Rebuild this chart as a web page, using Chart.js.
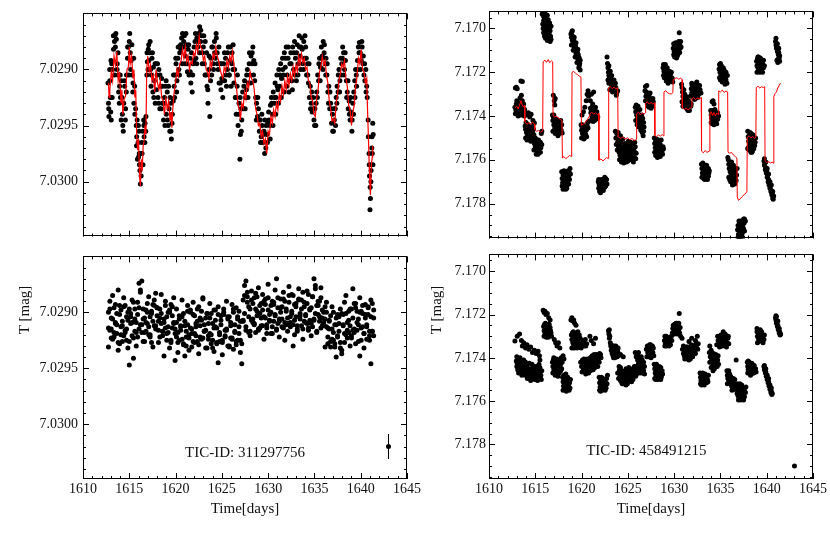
<!DOCTYPE html>
<html>
<head>
<meta charset="utf-8">
<script src="https://cdn.jsdelivr.net/npm/chart.js@4.4.1/dist/chart.umd.min.js"></script>
<style>
  html, body { margin: 0; padding: 0; background: #fff; }
  #page { position: relative; width: 830px; height: 534px; overflow: hidden; }
  #page canvas { position: absolute; }
</style>
</head>
<body>
<div id="page">
  <canvas id="tl" width="425" height="250" style="left:0;top:0;width:425px;height:250px"></canvas>
  <canvas id="bl" width="425" height="291" style="left:0;top:243px;width:425px;height:291px"></canvas>
  <canvas id="tr" width="420" height="250" style="left:410px;top:0;width:420px;height:250px"></canvas>
  <canvas id="br" width="420" height="291" style="left:410px;top:243px;width:420px;height:291px"></canvas>
</div>
<script>
// axis ticks
const xTickValues = [1610, 1615, 1620, 1625, 1630, 1635, 1640, 1645];
const yTicksLeft = [7.0290, 7.0295, 7.0300];
const yTicksRight = [7.170, 7.172, 7.174, 7.176, 7.178];

// TIC 311297756 - model (red) [time, mag]
const tlModel = [
  [1612.75,7.02912],[1612.82,7.02925],[1612.9,7.02918],[1613.05,7.02902],[1613.2,7.02910],[1613.35,7.02888],[1613.5,7.02896],[1613.65,7.02884],[1613.8,7.02910],[1613.95,7.02902],
  [1614.1,7.02930],[1614.2,7.02918],[1614.3,7.02940],[1614.45,7.02926],[1614.6,7.02924],[1614.75,7.02900],[1614.9,7.02898],[1615.0,7.02880],[1615.1,7.02895],[1615.25,7.02888],
  [1615.4,7.02908],[1615.5,7.02900],[1615.6,7.02925],[1615.7,7.02918],[1615.8,7.02960],[1615.9,7.02972],[1616.0,7.02962],[1616.1,7.02995],[1616.2,7.03004],[1616.3,7.02980],
  [1616.4,7.02990],[1616.5,7.02968],[1616.6,7.02964],[1616.7,7.02950],[1616.8,7.02958],[1616.88,7.02900],[1617.0,7.02888],[1617.15,7.02902],[1617.3,7.02896],[1617.45,7.02910],
  [1617.6,7.02905],[1617.75,7.02920],[1617.9,7.02900],[1618.05,7.02912],[1618.2,7.02918],[1618.35,7.02910],[1618.5,7.02925],[1618.65,7.02928],[1618.8,7.02940],[1618.95,7.02926],
  [1619.1,7.02935],[1619.25,7.02928],[1619.4,7.02945],[1619.5,7.02938],[1619.6,7.02952],[1619.7,7.02935],[1619.85,7.02920],[1620.0,7.02912],[1620.15,7.02900],[1620.3,7.02906],
  [1620.45,7.02895],[1620.6,7.02892],[1620.75,7.02882],[1620.9,7.02890],[1621.05,7.02880],[1621.2,7.02893],[1621.35,7.02888],[1621.5,7.02900],[1621.65,7.02893],[1621.8,7.02895],
  [1621.95,7.02885],[1622.1,7.02888],[1622.25,7.02878],[1622.4,7.02884],[1622.55,7.02870],[1622.7,7.02880],[1622.85,7.02882],[1623.0,7.02892],[1623.15,7.02888],[1623.3,7.02900],
  [1623.45,7.02902],[1623.6,7.02908],[1623.75,7.02893],[1623.9,7.02898],[1624.05,7.02886],[1624.2,7.02890],[1624.35,7.02880],[1624.5,7.02888],[1624.65,7.02892],[1624.8,7.02900],
  [1624.95,7.02904],[1625.1,7.02908],[1625.25,7.02898],[1625.4,7.02902],[1625.55,7.02892],[1625.7,7.02898],[1625.85,7.02888],[1626.0,7.02893],[1626.15,7.02884],[1626.3,7.02895],
  [1626.45,7.02910],[1626.6,7.02918],[1626.75,7.02932],[1626.9,7.02936],[1627.0,7.02945],[1627.15,7.02930],[1627.3,7.02934],[1627.45,7.02920],[1627.6,7.02926],[1627.75,7.02912],
  [1627.9,7.02916],[1628.05,7.02902],[1628.2,7.02908],[1628.35,7.02910],[1628.5,7.02918],[1628.65,7.02935],[1628.8,7.02940],[1628.95,7.02950],[1629.1,7.02948],[1629.25,7.02960],
  [1629.4,7.02955],[1629.55,7.02966],[1629.7,7.02962],[1629.85,7.02975],[1630.0,7.02955],[1630.15,7.02958],[1630.3,7.02942],[1630.45,7.02948],[1630.6,7.02936],[1630.75,7.02942],
  [1630.9,7.02930],[1631.05,7.02936],[1631.2,7.02922],[1631.35,7.02928],[1631.5,7.02915],[1631.65,7.02922],[1631.8,7.02910],[1631.95,7.02918],[1632.1,7.02906],[1632.25,7.02914],
  [1632.4,7.02904],[1632.55,7.02910],[1632.7,7.02898],[1632.85,7.02906],[1633.0,7.02896],[1633.15,7.02902],[1633.3,7.02888],[1633.45,7.02896],[1633.6,7.02886],[1633.75,7.02894],
  [1633.9,7.02890],[1634.05,7.02900],[1634.2,7.02898],[1634.35,7.02910],[1634.5,7.02912],[1634.65,7.02925],[1634.8,7.02928],[1634.95,7.02940],[1635.1,7.02942],[1635.25,7.02925],
  [1635.4,7.02918],[1635.55,7.02902],[1635.7,7.02898],[1635.85,7.02888],[1636.0,7.02896],[1636.15,7.02892],[1636.3,7.02905],[1636.45,7.02912],[1636.6,7.02928],[1636.75,7.02935],
  [1636.9,7.02946],[1637.05,7.02944],[1637.2,7.02948],[1637.35,7.02930],[1637.5,7.02922],[1637.65,7.02910],[1637.8,7.02904],[1637.95,7.02895],[1638.1,7.02898],[1638.25,7.02892],
  [1638.4,7.02908],[1638.55,7.02915],[1638.7,7.02932],[1638.85,7.02936],[1639.0,7.02950],[1639.15,7.02938],[1639.3,7.02932],[1639.45,7.02915],[1639.6,7.02906],[1639.75,7.02890],
  [1639.9,7.02895],[1640.05,7.02882],[1640.2,7.02900],[1640.35,7.02902],[1640.5,7.02912],[1640.65,7.02908],[1640.75,7.02940],[1640.85,7.02965],[1640.95,7.02995],[1641.05,7.03012],
  [1641.15,7.02985],[1641.25,7.02978],[1641.3,7.02968]
];

// TIC 311297756 - observed (black) [time, mag]
const tlObs = [
  [1612.7,7.02912],[1612.75,7.02930],[1612.8,7.02942],[1612.9,7.02910],[1612.95,7.02925],[1613.0,7.02938],[1613.05,7.02945],[1613.1,7.02895],[1613.2,7.02900],[1613.3,7.02882],
  [1613.4,7.02875],[1613.45,7.02870],[1613.5,7.02880],[1613.6,7.02873],[1613.7,7.02895],[1613.8,7.02905],[1613.85,7.02920],
  [1613.95,7.02915],[1614.05,7.02925],[1614.15,7.02910],[1614.25,7.02940],[1614.3,7.02950],[1614.4,7.02930],[1614.5,7.02915],[1614.6,7.02935],[1614.7,7.02905],[1614.8,7.02890],
  [1614.9,7.02880],[1615.0,7.02875],[1615.1,7.02885],[1615.2,7.02892],[1615.3,7.02905],[1615.4,7.02912],[1615.5,7.02930],[1615.6,7.02940],
  [1615.75,7.02950],[1615.8,7.02960],[1615.85,7.02945],[1615.95,7.02965],[1616.0,7.02978],[1616.05,7.02955],[1616.1,7.02985],[1616.15,7.02990],[1616.2,7.03002],[1616.25,7.02975],
  [1616.35,7.02965],[1616.45,7.02955],[1616.55,7.02945],[1616.6,7.02960],[1616.7,7.02948],[1616.8,7.02942],
  [1616.9,7.02905],[1616.95,7.02893],[1617.05,7.02882],[1617.1,7.02878],[1617.2,7.02885],[1617.3,7.02900],[1617.35,7.02915],[1617.45,7.02890],[1617.55,7.02920],[1617.6,7.02898],
  [1617.7,7.02910],[1617.8,7.02930],[1617.9,7.02895],[1618.0,7.02905],[1618.1,7.02925],[1618.2,7.02900],[1618.3,7.02935],[1618.4,7.02915],[1618.5,7.02908],[1618.6,7.02930],
  [1618.7,7.02945],[1618.8,7.02925],[1618.9,7.02915],[1619.0,7.02940],[1619.1,7.02920],[1619.2,7.02950],[1619.3,7.02935],[1619.4,7.02925],[1619.5,7.02955],[1619.55,7.02962],
  [1619.65,7.02940],[1619.75,7.02928],[1619.85,7.02915],
  [1619.95,7.02905],[1620.05,7.02895],[1620.15,7.02910],[1620.25,7.02890],[1620.35,7.02900],[1620.45,7.02885],[1620.55,7.02878],[1620.65,7.02872],[1620.75,7.02868],[1620.85,7.02880],
  [1620.95,7.02870],[1621.05,7.02888],[1621.15,7.02878],[1621.25,7.02895],[1621.35,7.02882],[1621.45,7.02905],[1621.55,7.02890],[1621.65,7.02912],[1621.8,7.02920],[1621.9,7.02895],
  [1622.0,7.02880],[1622.1,7.02875],[1622.2,7.02890],[1622.3,7.02872],[1622.4,7.02880],[1622.5,7.02868],[1622.6,7.02862],[1622.7,7.02875],[1622.8,7.02870],[1622.9,7.02885],
  [1623.0,7.02880],[1623.1,7.02895],[1623.2,7.02875],[1623.3,7.02905],[1623.4,7.02915],[1623.5,7.02930],[1623.6,7.02900],[1623.7,7.02942],[1623.8,7.02890],[1623.9,7.02905],
  [1624.0,7.02880],[1624.1,7.02900],[1624.2,7.02875],[1624.3,7.02890],[1624.4,7.02872],[1624.5,7.02885],[1624.6,7.02900],[1624.7,7.02912],[1624.8,7.02895],[1624.9,7.02918],
  [1625.0,7.02908],[1625.1,7.02925],[1625.2,7.02895],[1625.3,7.02910],[1625.4,7.02890],[1625.5,7.02915],[1625.6,7.02900],[1625.7,7.02880],[1625.8,7.02905],[1625.9,7.02892],
  [1626.0,7.02915],[1626.1,7.02885],[1626.2,7.02900],[1626.3,7.02912],
  [1626.45,7.02925],[1626.55,7.02940],[1626.65,7.02915],[1626.75,7.02950],[1626.85,7.02930],[1626.95,7.02980],[1627.0,7.02958],[1627.05,7.02935],[1627.15,7.02945],[1627.25,7.02920],
  [1627.35,7.02935],[1627.45,7.02910],[1627.55,7.02925],[1627.65,7.02918],[1627.75,7.02900],[1627.85,7.02912],[1627.95,7.02895],[1628.05,7.02905],[1628.15,7.02888],[1628.25,7.02895],
  [1628.35,7.02880],[1628.45,7.02892],[1628.55,7.02910],[1628.65,7.02925],
  [1628.75,7.02930],[1628.85,7.02942],[1628.95,7.02935],[1629.05,7.02955],[1629.15,7.02945],[1629.25,7.02960],[1629.35,7.02950],[1629.45,7.02965],[1629.55,7.02955],[1629.65,7.02945],
  [1629.75,7.02970],[1629.85,7.02958],[1629.95,7.02948],[1630.05,7.02938],[1630.15,7.02950],[1630.25,7.02932],[1630.35,7.02925],[1630.45,7.02940],[1630.55,7.02920],[1630.65,7.02930],
  [1630.75,7.02912],[1630.85,7.02925],[1630.95,7.02905],[1631.05,7.02918],[1631.15,7.02900],[1631.25,7.02915],[1631.35,7.02895],[1631.45,7.02908],
  [1631.55,7.02890],[1631.65,7.02905],[1631.75,7.02885],[1631.85,7.02898],[1631.95,7.02880],[1632.05,7.02905],[1632.15,7.02890],[1632.25,7.02920],[1632.35,7.02895],[1632.45,7.02885],
  [1632.55,7.02910],[1632.65,7.02880],[1632.75,7.02900],[1632.85,7.02875],[1632.95,7.02890],[1633.05,7.02910],[1633.15,7.02878],[1633.25,7.02895],[1633.35,7.02870],[1633.45,7.02888],
  [1633.55,7.02880],[1633.65,7.02872],[1633.75,7.02895],[1633.85,7.02875],[1633.95,7.02890],[1634.05,7.02880],[1634.15,7.02905],[1634.25,7.02895],[1634.35,7.02912],[1634.45,7.02925],
  [1634.55,7.02915],[1634.65,7.02930],[1634.75,7.02938],[1634.85,7.02925],[1634.95,7.02945],[1635.05,7.02935],[1635.15,7.02950],[1635.25,7.02920],[1635.35,7.02905],[1635.45,7.02910],
  [1635.55,7.02890],[1635.65,7.02898],[1635.75,7.02880],[1635.85,7.02888],[1635.95,7.02875],[1636.05,7.02885],[1636.15,7.02895],[1636.25,7.02890],[1636.35,7.02905],
  [1636.45,7.02920],[1636.55,7.02915],[1636.65,7.02935],[1636.75,7.02930],[1636.85,7.02948],[1636.95,7.02940],[1637.05,7.02955],[1637.15,7.02945],[1637.25,7.02935],[1637.35,7.02925],
  [1637.45,7.02915],[1637.55,7.02920],[1637.65,7.02900],[1637.75,7.02910],[1637.85,7.02890],[1637.95,7.02895],[1638.05,7.02880],[1638.15,7.02885],[1638.25,7.02900],[1638.35,7.02892],
  [1638.45,7.02910],
  [1638.55,7.02920],[1638.65,7.02935],[1638.75,7.02928],[1638.85,7.02945],[1638.95,7.02938],[1639.05,7.02955],[1639.15,7.02930],[1639.25,7.02920],[1639.35,7.02910],[1639.45,7.02900],
  [1639.55,7.02915],[1639.65,7.02892],[1639.75,7.02880],[1639.85,7.02876],[1639.95,7.02885],[1640.05,7.02892],[1640.15,7.02880],[1640.25,7.02895],[1640.35,7.02905],[1640.45,7.02910],
  [1640.55,7.02900],[1640.65,7.02915],
  [1640.8,7.02945],[1640.9,7.02975],[1640.95,7.02995],[1641.0,7.03025],[1641.05,7.03015],[1641.1,7.03000],[1641.15,7.02985],[1641.2,7.02970],[1641.25,7.02975],[1641.3,7.02948],
  [1641.35,7.02958]
];
const tlObsExtra = [
  [1612.78,7.02935],[1612.88,7.02900],[1613.02,7.02892],[1613.15,7.02925],[1613.28,7.02870],[1613.42,7.02905],[1613.55,7.02868],[1613.68,7.02900],[1613.78,7.02885],[1613.92,7.02930],
  [1614.02,7.02905],[1614.12,7.02945],[1614.22,7.02925],[1614.35,7.02955],[1614.48,7.02910],[1614.58,7.02945],[1614.68,7.02920],[1614.82,7.02880],[1614.95,7.02905],[1615.05,7.02868],
  [1615.15,7.02900],[1615.28,7.02878],[1615.38,7.02920],[1615.48,7.02890],[1615.58,7.02915],[1615.68,7.02935],[1615.78,7.02968],[1615.88,7.02980],[1615.98,7.02950],[1616.08,7.02975],
  [1616.18,7.02985],[1616.28,7.02995],[1616.38,7.02975],[1616.48,7.02985],[1616.58,7.02950],[1616.68,7.02965],[1616.78,7.02955],[1616.92,7.02885],[1617.02,7.02900],[1617.12,7.02892],
  [1617.25,7.02875],[1617.38,7.02905],[1617.5,7.02885],[1617.65,7.02925],[1617.78,7.02895],[1617.92,7.02918],[1618.05,7.02895],[1618.18,7.02930],[1618.32,7.02905],[1618.45,7.02935],
  [1618.58,7.02915],[1618.72,7.02930],[1618.85,7.02950],[1618.98,7.02910],[1619.12,7.02945],[1619.25,7.02915],[1619.38,7.02955],[1619.52,7.02930],[1619.62,7.02948],[1619.78,7.02905],
  [1619.9,7.02925],[1620.02,7.02890],[1620.12,7.02920],[1620.28,7.02880],[1620.42,7.02905],[1620.58,7.02882],[1620.72,7.02895],[1620.88,7.02875],[1621.02,7.02895],[1621.12,7.02868],
  [1621.28,7.02902],[1621.42,7.02878],[1621.58,7.02902],[1621.72,7.02885],[1621.85,7.02905],[1621.98,7.02892],[1622.15,7.02868],[1622.28,7.02895],[1622.45,7.02875],[1622.58,7.02885],
  [1622.72,7.02865],[1622.88,7.02895],[1623.05,7.02870],[1623.18,7.02905],[1623.35,7.02885],[1623.48,7.02918],[1623.62,7.02888],[1623.78,7.02910],[1623.92,7.02880],[1624.08,7.02895],
  [1624.22,7.02885],[1624.38,7.02868],[1624.52,7.02895],[1624.68,7.02880],[1624.82,7.02912],[1624.98,7.02895],[1625.15,7.02910],[1625.28,7.02885],[1625.45,7.02905],[1625.62,7.02885],
  [1625.78,7.02905],[1625.92,7.02880],[1626.08,7.02895],[1626.22,7.02878],[1626.38,7.02900],[1626.52,7.02925],[1626.68,7.02905],[1626.82,7.02940],[1626.98,7.02925],[1627.1,7.02955],
  [1627.22,7.02935],[1627.38,7.02915],[1627.52,7.02935],[1627.68,7.02905],[1627.82,7.02925],[1627.98,7.02885],[1628.12,7.02912],[1628.28,7.02885],[1628.42,7.02905],[1628.58,7.02895],
  [1628.72,7.02945],[1628.88,7.02925],[1629.02,7.02945],[1629.18,7.02965],[1629.32,7.02940],[1629.48,7.02958],[1629.62,7.02975],[1629.78,7.02950],[1629.92,7.02965],[1630.08,7.02945],
  [1630.22,7.02962],[1630.38,7.02930],[1630.52,7.02950],[1630.68,7.02925],[1630.82,7.02940],[1630.98,7.02915],[1631.12,7.02930],[1631.28,7.02905],[1631.42,7.02925],[1631.58,7.02900],
  [1631.72,7.02920],[1631.88,7.02890],[1632.02,7.02915],[1632.18,7.02880],[1632.32,7.02910],[1632.48,7.02895],[1632.62,7.02918],[1632.78,7.02885],[1632.92,7.02905],[1633.08,7.02885],
  [1633.22,7.02905],[1633.38,7.02880],[1633.52,7.02900],[1633.68,7.02882],[1633.82,7.02900],[1633.98,7.02870],[1634.12,7.02890],[1634.28,7.02905],[1634.42,7.02895],[1634.58,7.02935],
  [1634.72,7.02920],[1634.88,7.02935],[1635.02,7.02950],[1635.18,7.02930],[1635.32,7.02925],[1635.48,7.02895],[1635.62,7.02910],[1635.78,7.02890],[1635.92,7.02900],[1636.08,7.02878],
  [1636.22,7.02905],[1636.38,7.02895],[1636.52,7.02930],[1636.68,7.02920],[1636.82,7.02935],[1636.98,7.02955],[1637.12,7.02935],[1637.28,7.02950],[1637.42,7.02930],[1637.58,7.02905],
  [1637.72,7.02920],[1637.88,7.02905],[1638.02,7.02890],[1638.18,7.02905],[1638.32,7.02885],[1638.48,7.02925],[1638.62,7.02910],[1638.78,7.02940],[1638.92,7.02925],[1639.08,7.02945],
  [1639.22,7.02940],[1639.38,7.02925],[1639.52,7.02905],[1639.68,7.02900],[1639.82,7.02885],[1639.98,7.02900],[1640.12,7.02875],[1640.28,7.02888],[1640.42,7.02895],[1640.58,7.02920],
  [1640.7,7.02925],[1640.82,7.02960],[1640.92,7.02985],[1641.02,7.03005],[1641.12,7.02990],[1641.22,7.02960],[1641.32,7.02985]
];

// TIC 311297756 - residuals (three sets on one time grid)
const blTime = [
  1612.75,1612.9,1613.05,1613.2,1613.35,1613.5,1613.65,1613.8,1613.95,1614.1,
  1614.25,1614.4,1614.55,1614.7,1614.85,1615.0,1615.15,1615.3,1615.45,1615.6,
  1615.75,1615.9,1616.05,1616.2,1616.35,1616.5,1616.65,1616.8,1616.95,1617.1,
  1617.25,1617.4,1617.55,1617.7,1617.85,1618.0,1618.15,1618.3,1618.45,1618.6,
  1618.75,1618.9,1619.05,1619.2,1619.35,1619.5,1619.65,1619.8,1619.95,1620.1,
  1620.25,1620.4,1620.55,1620.7,1620.85,1621.0,1621.15,1621.3,1621.45,1621.6,
  1621.75,1621.9,1622.05,1622.2,1622.35,1622.5,1622.65,1622.8,1622.95,1623.1,
  1623.25,1623.4,1623.55,1623.7,1623.85,1624.0,1624.15,1624.3,1624.45,1624.6,
  1624.75,1624.9,1625.05,1625.2,1625.35,1625.5,1625.65,1625.8,1625.95,1626.1,
  1626.25,1626.4,1626.55,1626.7,1626.85,1627.0,1627.15,1627.3,1627.45,1627.6,
  1627.75,1627.9,1628.05,1628.2,1628.35,1628.5,1628.65,1628.8,1628.95,1629.1,
  1629.25,1629.4,1629.55,1629.7,1629.85,1630.0,1630.15,1630.3,1630.45,1630.6,
  1630.75,1630.9,1631.05,1631.2,1631.35,1631.5,1631.65,1631.8,1631.95,1632.1,
  1632.25,1632.4,1632.55,1632.7,1632.85,1633.0,1633.15,1633.3,1633.45,1633.6,
  1633.75,1633.9,1634.05,1634.2,1634.35,1634.5,1634.65,1634.8,1634.95,1635.1,
  1635.25,1635.4,1635.55,1635.7,1635.85,1636.0,1636.15,1636.3,1636.45,1636.6,
  1636.75,1636.9,1637.05,1637.2,1637.35,1637.5,1637.65,1637.8,1637.95,1638.1,
  1638.25,1638.4,1638.55,1638.7,1638.85,1639.0,1639.15,1639.3,1639.45,1639.6,
  1639.75,1639.9,1640.05,1640.2,1640.35,1640.5,1640.65,1640.8,1640.95,1641.1,
  1641.25,1641.4
];
const blResA = [
  7.02914,7.02897,7.02923,7.02906,7.02918,7.02893,7.02911,7.02927,7.02902,7.02920,
  7.02908,7.02895,7.02916,7.02925,7.02900,7.02947,7.02904,7.02921,7.02891,7.02917,
  7.02909,7.02922,7.02896,7.02911,7.02872,7.02926,7.02905,7.02917,7.02892,7.02913,
  7.02920,7.02899,7.02908,7.02894,7.02883,7.02903,7.02916,7.02897,7.02910,7.02921,
  7.02939,7.02914,7.02904,7.02918,7.02900,7.02927,7.02895,7.02909,7.02915,7.02897,
  7.02918,7.02925,7.02912,7.02904,7.02928,7.02908,7.02917,7.02899,7.02923,7.02914,
  7.02931,7.02902,7.02919,7.02910,7.02926,7.02895,7.02922,7.02907,7.02887,7.02911,
  7.02916,7.02901,7.02924,7.02905,7.02920,7.02932,7.02898,7.02913,7.02927,7.02945,
  7.02918,7.02903,7.02925,7.02900,7.02921,7.02915,7.02906,7.02930,7.02912,7.02923,
  7.02897,7.02917,7.02926,7.02904,7.02919,7.02908,7.02928,7.02889,7.02901,7.02872,
  7.02886,7.02918,7.02897,7.02907,7.02892,7.02911,7.02883,7.02903,7.02916,7.02894,
  7.02912,7.02898,7.02890,7.02905,7.02914,7.02887,7.02908,7.02900,7.02919,7.02893,
  7.02902,7.02870,7.02910,7.02906,7.02896,7.02913,7.02888,7.02909,7.02899,7.02917,
  7.02891,7.02904,7.02884,7.02911,7.02907,7.02895,7.02915,7.02889,7.02901,7.02912,
  7.02882,7.02908,7.02903,7.02892,7.02916,7.02897,7.02910,7.02886,7.02906,7.02879,
  7.02894,7.02902,7.02890,7.02914,7.02898,7.02909,7.02895,7.02913,7.02928,7.02908,
  7.02926,7.02915,7.02900,7.02928,7.02911,7.02922,7.02904,7.02932,7.02937,7.02911,
  7.02891,7.02920,7.02916,7.02899,7.02912,7.02923,7.02879,7.02918,7.02896,7.02909,
  7.02926,7.02900,7.02914,7.02894,7.02919,7.02905,7.02924,7.02902,7.02917,7.02946,
  7.02892,7.02921
];
const blResB = [
  7.02900,7.02916,7.02905,7.02924,7.02896,7.02910,7.02919,7.02880,7.02928,7.02898,
  7.02912,7.02921,7.02894,7.02915,7.02907,7.02926,7.02901,7.02909,7.02941,7.02897,
  7.02918,7.02902,7.02874,7.02880,7.02911,7.02897,7.02918,7.02909,7.02900,7.02920,
  7.02904,7.02927,7.02893,7.02912,7.02915,7.02896,7.02908,7.02922,7.02901,7.02917,
  7.02906,7.02894,7.02919,7.02913,7.02898,7.02925,7.02903,7.02910,7.02943,7.02922,
  7.02927,7.02906,7.02913,7.02924,7.02901,7.02939,7.02930,7.02911,7.02920,7.02898,
  7.02915,7.02926,7.02903,7.02921,7.02908,7.02929,7.02912,7.02899,7.02923,7.02917,
  7.02905,7.02932,7.02910,7.02919,7.02901,7.02925,7.02914,7.02907,7.02928,7.02902,
  7.02920,7.02911,7.02927,7.02897,7.02922,7.02916,7.02904,7.02931,7.02909,7.02924,
  7.02900,7.02918,7.02929,7.02906,7.02913,7.02925,7.02946,7.02908,7.02885,7.02913,
  7.02882,7.02895,7.02917,7.02889,7.02906,7.02910,7.02897,7.02886,7.02915,7.02901,
  7.02892,7.02912,7.02904,7.02888,7.02919,7.02898,7.02907,7.02894,7.02913,7.02891,
  7.02903,7.02916,7.02887,7.02908,7.02900,7.02895,7.02914,7.02890,7.02911,7.02905,
  7.02885,7.02909,7.02899,7.02930,7.02893,7.02904,7.02912,7.02888,7.02906,7.02897,
  7.02915,7.02891,7.02902,7.02910,7.02884,7.02907,7.02896,7.02913,7.02870,7.02901,
  7.02917,7.02894,7.02908,7.02887,7.02905,7.02911,7.02906,7.02900,7.02922,7.02915,
  7.02903,7.02924,7.02918,7.02931,7.02905,7.02921,7.02910,7.02927,7.02901,7.02912,
  7.02927,7.02901,7.02909,7.02918,7.02897,7.02921,7.02905,7.02915,7.02892,7.02916,
  7.02906,7.02939,7.02899,7.02913,7.02919,7.02902,7.02911,7.02895,7.02925,7.02904,
  7.02917,7.02898
];
const blResC = [
  7.02931,7.02890,7.02915,7.02885,7.02922,7.02909,7.02901,7.02934,7.02894,7.02913,
  7.02926,7.02887,7.02918,7.02904,7.02932,7.02897,7.02910,7.02889,7.02923,7.02906,
  7.02930,7.02891,7.02915,7.02882,7.02918,7.02906,7.02926,7.02898,7.02910,7.02886,
  7.02922,7.02901,7.02931,7.02889,7.02912,7.02896,7.02927,7.02905,7.02884,7.02917,
  7.02909,7.02890,7.02925,7.02900,7.02932,7.02893,7.02914,7.02887,7.02919,7.02909,
  7.02936,7.02903,7.02916,7.02889,7.02929,7.02912,7.02922,7.02894,7.02934,7.02900,
  7.02919,7.02891,7.02927,7.02913,7.02897,7.02937,7.02905,7.02924,7.02888,7.02917,
  7.02932,7.02901,7.02921,7.02892,7.02928,7.02910,7.02935,7.02898,7.02914,7.02895,
  7.02926,7.02907,7.02938,7.02902,7.02916,7.02890,7.02930,7.02904,7.02923,7.02893,
  7.02933,7.02911,7.02896,7.02925,7.02899,7.02936,7.02908,7.02907,7.02876,7.02916,
  7.02891,7.02904,7.02921,7.02881,7.02909,7.02887,7.02918,7.02899,7.02878,7.02914,
  7.02905,7.02884,7.02924,7.02893,7.02911,7.02875,7.02902,7.02919,7.02890,7.02908,
  7.02880,7.02915,7.02896,7.02922,7.02888,7.02906,7.02882,7.02925,7.02897,7.02910,
  7.02877,7.02913,7.02901,7.02885,7.02920,7.02892,7.02917,7.02879,7.02903,7.02889,
  7.02924,7.02895,7.02909,7.02881,7.02914,7.02898,7.02921,7.02886,7.02907,7.02876,
  7.02918,7.02890,7.02904,7.02878,7.02912,7.02900,7.02931,7.02891,7.02914,7.02907,
  7.02931,7.02895,7.02925,7.02911,7.02940,7.02902,7.02917,7.02897,7.02934,7.02902,
  7.02919,7.02885,7.02923,7.02907,7.02930,7.02897,7.02916,7.02892,7.02928,7.02899,
  7.02911,7.02887,7.02925,7.02901,7.02932,7.02893,7.02913,7.02896,7.02921,7.02889,
  7.02917,7.02905
];
const blRefPoint = [[1643, 7.03020]];
const blRefError = [[1643, 7.03009], [1643, 7.03031]];

// TIC 458491215 - model (red) [time, mag]
const trModel = [
  [1612.8,7.17362],[1613.0,7.17355],[1613.15,7.17368],[1613.3,7.17350],[1613.45,7.17330],[1613.55,7.17345],[1613.7,7.17358],[1613.82,7.17352],
  [1613.87,7.17425],[1614.1,7.17438],[1614.3,7.17430],[1614.5,7.17440],[1614.7,7.17428],[1614.9,7.17436],
  [1614.95,7.17462],[1615.15,7.17470],[1615.35,7.17466],[1615.55,7.17474],[1615.8,7.17468],
  [1615.85,7.17152],[1616.05,7.17145],[1616.2,7.17155],[1616.4,7.17142],[1616.55,7.17156],[1616.75,7.17148],[1616.88,7.17153],
  [1616.92,7.17398],[1617.1,7.17405],[1617.3,7.17400],[1617.5,7.17410],[1617.7,7.17415],[1617.88,7.17420],
  [1617.93,7.17592],[1618.1,7.17585],[1618.3,7.17595],[1618.5,7.17588],[1618.7,7.17580],[1618.93,7.17585],
  [1618.97,7.17200],[1619.15,7.17196],[1619.35,7.17205],[1619.55,7.17210],[1619.75,7.17218],[1619.93,7.17222],
  [1619.98,7.17442],[1620.2,7.17436],[1620.4,7.17430],[1620.6,7.17418],[1620.86,7.17400],
  [1620.9,7.17390],[1621.1,7.17382],[1621.3,7.17392],[1621.5,7.17385],[1621.7,7.17394],[1621.85,7.17388],
  [1621.88,7.17602],[1622.1,7.17596],[1622.3,7.17605],[1622.5,7.17598],[1622.7,7.17590],[1622.9,7.17594],
  [1622.93,7.17272],[1623.1,7.17265],[1623.3,7.17275],[1623.5,7.17268],[1623.7,7.17276],[1623.9,7.17270],
  [1623.95,7.17495],[1624.2,7.17502],[1624.45,7.17496],[1624.7,7.17505],[1624.95,7.17500],[1625.2,7.17508],[1625.45,7.17503],[1625.7,7.17512],[1625.92,7.17508],
  [1625.95,7.17390],[1626.15,7.17382],[1626.35,7.17395],[1626.55,7.17386],[1626.75,7.17392],[1626.88,7.17385],
  [1626.92,7.17342],[1627.1,7.17335],[1627.3,7.17345],[1627.5,7.17338],[1627.7,7.17346],[1627.88,7.17340],
  [1627.92,7.17488],[1628.1,7.17495],[1628.3,7.17486],[1628.5,7.17492],[1628.7,7.17485],[1628.86,7.17490],
  [1628.9,7.17290],[1629.1,7.17284],[1629.3,7.17294],[1629.5,7.17298],[1629.7,7.17300],[1629.86,7.17292],
  [1629.9,7.17235],[1630.1,7.17228],[1630.3,7.17225],[1630.5,7.17232],[1630.7,7.17226],[1630.85,7.17234],
  [1630.89,7.17362],[1631.1,7.17370],[1631.3,7.17364],[1631.5,7.17372],[1631.7,7.17366],[1631.88,7.17360],
  [1631.92,7.17322],[1632.1,7.17315],[1632.3,7.17325],[1632.5,7.17318],[1632.7,7.17322],[1632.92,7.17316],
  [1632.96,7.17560],[1633.15,7.17568],[1633.35,7.17558],[1633.55,7.17566],[1633.82,7.17560],
  [1633.86,7.17392],[1634.0,7.17380],[1634.15,7.17398],[1634.3,7.17384],[1634.45,7.17400],[1634.6,7.17386],[1634.78,7.17394],
  [1634.82,7.17285],[1635.0,7.17290],[1635.2,7.17282],[1635.4,7.17292],[1635.6,7.17286],[1635.78,7.17290],
  [1635.82,7.17565],[1636.0,7.17570],[1636.2,7.17566],[1636.4,7.17578],[1636.6,7.17585],[1636.78,7.17592],
  [1636.82,7.17770],[1636.95,7.17785],[1637.15,7.17778],[1637.35,7.17768],[1637.55,7.17760],[1637.75,7.17752],[1637.86,7.17745],
  [1637.9,7.17498],[1638.1,7.17490],[1638.3,7.17500],[1638.5,7.17494],[1638.7,7.17502],[1638.83,7.17496],
  [1638.87,7.17270],[1639.05,7.17264],[1639.25,7.17272],[1639.45,7.17266],[1639.65,7.17270],[1639.78,7.17265],
  [1639.82,7.17605],[1640.0,7.17612],[1640.2,7.17608],[1640.4,7.17615],[1640.6,7.17610],[1640.73,7.17616],
  [1640.77,7.17310],[1640.9,7.17298],[1641.05,7.17290],[1641.2,7.17272],[1641.35,7.17260],[1641.48,7.17250]
];

// TIC 458491215 - observed (black) [time, mag]
const trObs = [
  [1612.85,7.17272],[1612.95,7.17268],[1613.05,7.17275],[1613.45,7.17240],[1613.6,7.17242],[1613.5,7.17305],[1613.35,7.17318],
  [1612.8,7.17360],[1612.9,7.17372],[1612.95,7.17345],[1613.05,7.17385],[1613.1,7.17355],[1613.2,7.17368],[1613.25,7.17395],[1613.3,7.17340],[1613.4,7.17362],
  [1613.45,7.17378],[1613.55,7.17350],[1613.6,7.17330],[1613.7,7.17385],[1613.8,7.17400],[1613.85,7.17370],
  [1613.9,7.17445],[1613.95,7.17460],[1614.0,7.17430],[1614.05,7.17475],[1614.1,7.17455],[1614.15,7.17490],[1614.2,7.17468],[1614.25,7.17440],[1614.3,7.17482],[1614.35,7.17500],
  [1614.4,7.17460],[1614.45,7.17478],[1614.5,7.17448],[1614.55,7.17492],[1614.6,7.17505],[1614.7,7.17470],[1614.05,7.17395],[1614.25,7.17385],[1614.4,7.17405],[1614.55,7.17392],
  [1614.75,7.17420],[1614.9,7.17432],
  [1614.75,7.17495],[1614.8,7.17515],[1614.85,7.17485],[1614.9,7.17525],[1614.95,7.17505],[1615.0,7.17540],[1615.05,7.17515],[1615.1,7.17550],[1615.15,7.17525],[1615.2,7.17560],
  [1615.25,7.17535],[1615.3,7.17548],[1615.35,7.17510],[1615.4,7.17565],[1615.5,7.17540],[1615.55,7.17520],[1615.6,7.17545],[1615.7,7.17470],[1615.65,7.17480],
  [1615.75,7.16935],[1615.8,7.16925],[1615.9,7.16945],[1616.0,7.16955],[1616.05,7.16930],[1616.15,7.16950],[1616.3,7.16940],[1616.4,7.16960],[1616.55,7.16975],[1616.7,7.16990],
  [1615.85,7.17000],[1615.9,7.17020],[1615.95,7.16990],[1616.0,7.17035],[1616.05,7.17010],[1616.1,7.17045],[1616.15,7.17020],[1616.2,7.17000],[1616.25,7.17040],[1616.3,7.17055],
  [1616.35,7.17015],[1616.4,7.17030],[1616.45,7.17050],[1616.5,7.17025],[1616.55,7.17040],[1616.6,7.17010],[1616.65,7.17035],
  [1616.95,7.17305],[1617.05,7.17330],[1617.15,7.17320],[1617.1,7.17350],[1616.85,7.17395],[1616.9,7.17420],[1616.95,7.17405],[1617.0,7.17440],[1617.05,7.17415],[1617.1,7.17455],
  [1617.15,7.17430],[1617.2,7.17465],[1617.25,7.17440],[1617.3,7.17475],[1617.35,7.17450],[1617.4,7.17425],[1617.45,7.17460],[1617.5,7.17440],[1617.55,7.17470],[1617.6,7.17480],
  [1617.7,7.17455],[1617.8,7.17465],[1617.9,7.17478],
  [1617.85,7.17655],[1617.9,7.17685],[1617.95,7.17705],[1618.0,7.17670],[1618.05,7.17715],[1618.1,7.17690],[1618.15,7.17660],[1618.2,7.17705],[1618.25,7.17725],[1618.3,7.17680],
  [1618.35,7.17700],[1618.45,7.17670],[1618.5,7.17695],[1618.55,7.17650],[1618.6,7.17675],[1618.7,7.17660],[1618.75,7.17640],[1618.4,7.17730],
  [1618.85,7.17025],[1618.9,7.17040],[1618.95,7.17015],[1619.0,7.17055],[1619.05,7.17035],[1619.1,7.17070],[1619.15,7.17050],[1619.2,7.17085],[1619.25,7.17065],[1619.3,7.17100],
  [1619.35,7.17080],[1619.4,7.17115],[1619.45,7.17095],[1619.5,7.17125],[1619.55,7.17110],[1619.6,7.17140],[1619.65,7.17120],[1619.7,7.17150],[1619.75,7.17135],[1619.8,7.17160],
  [1619.85,7.17145],[1619.7,7.17180],
  [1619.95,7.17440],[1620.0,7.17465],[1620.05,7.17450],[1620.1,7.17480],[1620.15,7.17460],[1620.2,7.17490],[1620.25,7.17470],[1620.3,7.17500],[1620.35,7.17475],[1620.4,7.17455],
  [1620.45,7.17485],[1620.5,7.17465],[1620.6,7.17445],[1620.65,7.17430],[1620.75,7.17425],[1620.05,7.17395],[1620.2,7.17380],[1620.35,7.17360],[1620.5,7.17330],[1620.6,7.17300],
  [1620.7,7.17285],[1620.75,7.17310],
  [1620.95,7.17365],[1621.0,7.17385],[1621.05,7.17370],[1621.1,7.17400],[1621.15,7.17380],[1621.2,7.17410],[1621.25,7.17390],[1621.3,7.17415],[1621.35,7.17395],[1621.4,7.17375],
  [1621.45,7.17405],[1621.5,7.17385],[1621.55,7.17415],[1621.6,7.17395],[1621.7,7.17410],[1620.95,7.17330],[1621.05,7.17300],[1621.2,7.17345],[1621.3,7.17290],
  [1621.8,7.17700],[1621.85,7.17730],[1621.9,7.17715],[1621.95,7.17745],[1622.0,7.17725],[1622.05,7.17705],[1622.1,7.17740],[1622.15,7.17720],[1622.2,7.17700],[1622.25,7.17735],
  [1622.3,7.17710],[1622.35,7.17690],[1622.4,7.17720],[1622.45,7.17700],[1622.5,7.17680],[1622.55,7.17705],[1622.6,7.17685],[1622.7,7.17690],
  [1622.75,7.17130],[1622.8,7.17160],[1622.85,7.17180],[1622.9,7.17200],[1622.95,7.17215],[1623.0,7.17230],[1623.05,7.17210],[1623.1,7.17245],[1623.15,7.17225],[1623.2,7.17255],
  [1623.25,7.17235],[1623.3,7.17265],[1623.35,7.17245],[1623.4,7.17270],[1623.45,7.17250],[1623.5,7.17280],[1623.55,7.17260],[1623.6,7.17285],[1623.7,7.17270],[1623.8,7.17295],
  [1623.75,7.17305],
  [1623.65,7.17470],[1623.7,7.17500],[1623.8,7.17480],[1623.9,7.17520],[1624.0,7.17545],[1624.05,7.17565],[1624.1,7.17530],[1624.15,7.17580],[1624.2,7.17555],[1624.25,7.17600],
  [1624.3,7.17570],[1624.35,7.17545],[1624.4,7.17590],[1624.45,7.17565],[1624.5,7.17610],[1624.55,7.17580],[1624.6,7.17555],[1624.65,7.17595],[1624.7,7.17570],[1624.75,7.17540],
  [1624.8,7.17585],[1624.85,7.17560],[1624.9,7.17600],[1624.95,7.17575],[1625.0,7.17545],[1625.05,7.17590],[1625.1,7.17565],[1625.15,7.17530],[1625.2,7.17580],[1625.25,7.17555],
  [1625.3,7.17520],[1625.35,7.17570],[1625.4,7.17545],[1625.45,7.17585],[1625.5,7.17560],[1625.55,7.17530],[1625.6,7.17575],[1625.65,7.17550],[1625.7,7.17590],[1625.75,7.17565],
  [1625.8,7.17540],[1625.9,7.17570],[1623.95,7.17475],[1624.2,7.17490],[1624.45,7.17505],
  [1625.8,7.17360],[1625.85,7.17380],[1625.9,7.17350],[1625.95,7.17395],[1626.0,7.17370],[1626.05,7.17410],[1626.1,7.17385],[1626.15,7.17420],[1626.2,7.17400],[1626.25,7.17435],
  [1626.3,7.17415],[1626.35,7.17445],[1626.4,7.17425],[1626.45,7.17460],[1626.5,7.17440],[1626.55,7.17475],[1626.6,7.17455],[1626.65,7.17490],[1626.7,7.17470],
  [1626.85,7.17285],[1626.9,7.17265],[1626.95,7.17310],[1627.0,7.17330],[1627.05,7.17300],[1627.1,7.17345],[1627.15,7.17320],[1627.2,7.17355],[1627.25,7.17335],[1627.3,7.17310],
  [1627.35,7.17345],[1627.4,7.17325],[1627.45,7.17350],[1627.5,7.17330],[1627.6,7.17340],[1627.7,7.17320],[1627.05,7.17260],
  [1627.85,7.17500],[1627.9,7.17525],[1627.95,7.17545],[1628.0,7.17515],[1628.05,7.17560],[1628.1,7.17535],[1628.15,7.17575],[1628.2,7.17550],[1628.25,7.17525],[1628.3,7.17565],
  [1628.35,7.17540],[1628.4,7.17580],[1628.45,7.17555],[1628.5,7.17530],[1628.55,7.17570],[1628.6,7.17545],[1628.7,7.17560],[1628.8,7.17540],
  [1628.8,7.17180],[1628.85,7.17165],[1628.9,7.17195],[1628.95,7.17175],[1629.0,7.17210],[1629.05,7.17190],[1629.1,7.17220],[1629.15,7.17200],[1629.2,7.17230],[1629.25,7.17210],
  [1629.3,7.17235],[1629.35,7.17215],[1629.4,7.17240],[1629.45,7.17220],[1629.55,7.17230],[1629.65,7.17240],[1629.75,7.17225],[1629.85,7.17245],
  [1629.9,7.17090],[1629.95,7.17070],[1630.0,7.17105],[1630.05,7.17080],[1630.1,7.17115],[1630.15,7.17090],[1630.2,7.17125],[1630.25,7.17100],[1630.3,7.17075],[1630.35,7.17110],
  [1630.4,7.17085],[1630.45,7.17065],[1630.5,7.17095],[1630.6,7.17075],[1630.7,7.17060],[1630.55,7.17020],[1630.3,7.17130],
  [1630.8,7.17255],[1630.85,7.17270],[1630.9,7.17290],[1630.95,7.17310],[1631.0,7.17330],[1631.05,7.17345],[1631.1,7.17320],[1631.15,7.17355],[1631.2,7.17335],[1631.25,7.17360],
  [1631.3,7.17340],[1631.35,7.17365],[1631.4,7.17345],[1631.45,7.17370],[1631.5,7.17350],[1631.55,7.17330],[1631.6,7.17360],[1631.7,7.17340],[1631.8,7.17355],
  [1631.85,7.17275],[1631.9,7.17295],[1631.95,7.17260],[1632.0,7.17305],[1632.05,7.17280],[1632.1,7.17315],[1632.15,7.17290],[1632.2,7.17265],[1632.25,7.17300],[1632.3,7.17275],
  [1632.35,7.17310],[1632.4,7.17285],[1632.45,7.17245],[1632.5,7.17295],[1632.6,7.17270],[1632.7,7.17290],[1632.8,7.17280],
  [1632.95,7.17620],[1633.0,7.17640],[1633.05,7.17660],[1633.1,7.17635],[1633.15,7.17670],[1633.2,7.17650],[1633.25,7.17680],[1633.3,7.17655],[1633.35,7.17630],[1633.4,7.17665],
  [1633.45,7.17645],[1633.5,7.17675],[1633.55,7.17650],[1633.6,7.17665],[1633.7,7.17640],[1633.75,7.17660],
  [1633.95,7.17375],[1634.0,7.17395],[1634.05,7.17410],[1634.1,7.17385],[1634.15,7.17420],[1634.2,7.17400],[1634.25,7.17430],[1634.3,7.17410],[1634.35,7.17385],[1634.4,7.17420],
  [1634.45,7.17400],[1634.5,7.17425],[1634.6,7.17405],[1634.7,7.17415],[1634.1,7.17335],[1634.2,7.17330],[1634.3,7.17345],
  [1634.85,7.17185],[1634.9,7.17165],[1634.95,7.17200],[1635.0,7.17180],[1635.05,7.17215],[1635.1,7.17195],[1635.15,7.17225],[1635.2,7.17205],[1635.25,7.17230],[1635.3,7.17210],
  [1635.35,7.17240],[1635.4,7.17220],[1635.45,7.17245],[1635.5,7.17225],[1635.6,7.17235],[1635.7,7.17250],[1635.0,7.17160],
  [1635.85,7.17600],[1635.9,7.17620],[1635.95,7.17640],[1636.0,7.17615],[1636.05,7.17655],[1636.1,7.17635],[1636.15,7.17670],[1636.2,7.17645],[1636.25,7.17680],[1636.3,7.17655],
  [1636.35,7.17690],[1636.4,7.17665],[1636.45,7.17700],[1636.5,7.17675],[1636.55,7.17710],[1636.6,7.17685],[1636.7,7.17695],[1635.8,7.17590],
  [1636.85,7.17920],[1636.9,7.17900],[1636.95,7.17940],[1637.0,7.17915],[1637.05,7.17955],[1637.1,7.17930],[1637.15,7.17900],[1637.2,7.17945],[1637.25,7.17920],[1637.3,7.17890],
  [1637.35,7.17935],[1637.4,7.17905],[1637.45,7.17880],[1637.5,7.17915],[1637.55,7.17890],[1637.6,7.17870],[1637.0,7.17965],[1637.1,7.17975],
  [1637.95,7.17470],[1638.0,7.17495],[1638.05,7.17515],[1638.1,7.17490],[1638.15,7.17530],[1638.2,7.17505],[1638.25,7.17545],[1638.3,7.17520],[1638.35,7.17555],[1638.4,7.17530],
  [1638.45,7.17560],[1638.5,7.17540],[1638.55,7.17515],[1638.6,7.17550],[1638.7,7.17535],[1637.95,7.17550],[1638.3,7.17565],
  [1638.9,7.17150],[1638.95,7.17170],[1639.0,7.17140],[1639.05,7.17180],[1639.1,7.17160],[1639.15,7.17190],[1639.2,7.17170],[1639.25,7.17150],[1639.3,7.17185],[1639.35,7.17165],
  [1639.4,7.17195],[1639.45,7.17175],[1639.55,7.17160],[1639.65,7.17180],[1639.1,7.17130],[1639.3,7.17135],
  [1639.7,7.17605],[1639.75,7.17625],[1639.8,7.17615],[1639.85,7.17645],[1639.9,7.17635],[1639.95,7.17660],[1640.0,7.17650],[1640.05,7.17680],[1640.1,7.17670],[1640.15,7.17700],
  [1640.2,7.17690],[1640.25,7.17715],[1640.3,7.17705],[1640.35,7.17730],[1640.4,7.17720],[1640.45,7.17745],[1640.5,7.17740],[1640.55,7.17760],[1640.6,7.17755],[1640.65,7.17775],
  [1640.7,7.17780],
  [1640.95,7.17060],[1641.0,7.17075],[1641.05,7.17090],[1641.1,7.17085],[1641.15,7.17105],[1641.2,7.17100],[1641.25,7.17120],[1641.3,7.17110],[1641.35,7.17135],[1641.4,7.17125],
  [1641.1,7.17145],[1641.2,7.17155]
];
const trObsExtra = [
  [1612.85,7.17390],[1613.0,7.17330],[1613.15,7.17400],[1613.35,7.17385],[1613.5,7.17395],[1613.65,7.17365],[1613.75,7.17345],[1613.9,7.17385],
  [1613.95,7.17500],[1614.1,7.17510],[1614.2,7.17445],[1614.35,7.17465],[1614.5,7.17515],[1614.65,7.17450],[1614.8,7.17460],[1614.6,7.17485],
  [1614.85,7.17555],[1615.0,7.17500],[1615.1,7.17575],[1615.2,7.17510],[1615.3,7.17575],[1615.45,7.17525],[1615.55,7.17565],[1615.7,7.17530],
  [1615.8,7.16980],[1615.9,7.16965],[1616.0,7.16995],[1616.1,7.16975],[1616.2,7.16985],[1616.3,7.17005],[1616.45,7.16995],[1616.6,7.17060],[1616.25,7.16970],[1616.5,7.17000],[1616.7,7.17050],
  [1616.9,7.17470],[1617.0,7.17395],[1617.15,7.17480],[1617.3,7.17415],[1617.45,7.17490],[1617.6,7.17430],[1617.75,7.17420],[1617.85,7.17440],
  [1617.9,7.17720],[1618.0,7.17735],[1618.1,7.17650],[1618.2,7.17665],[1618.3,7.17735],[1618.45,7.17715],[1618.6,7.17710],[1618.7,7.17690],[1618.8,7.17665],
  [1618.9,7.17075],[1619.0,7.17010],[1619.1,7.17100],[1619.2,7.17040],[1619.3,7.17130],[1619.4,7.17065],[1619.5,7.17155],[1619.6,7.17095],[1619.75,7.17170],[1619.85,7.17190],
  [1620.0,7.17500],[1620.1,7.17440],[1620.25,7.17505],[1620.4,7.17490],[1620.55,7.17495],[1620.7,7.17455],[1620.3,7.17450],
  [1621.0,7.17420],[1621.1,7.17360],[1621.25,7.17425],[1621.4,7.17420],[1621.5,7.17360],[1621.65,7.17380],[1621.75,7.17405],
  [1621.85,7.17690],[1621.95,7.17700],[1622.05,7.17750],[1622.15,7.17690],[1622.25,7.17700],[1622.35,7.17740],[1622.5,7.17725],[1622.6,7.17720],[1622.75,7.17710],
  [1622.85,7.17235],[1622.95,7.17250],[1623.05,7.17280],[1623.15,7.17275],[1623.25,7.17215],[1623.35,7.17290],[1623.5,7.17235],[1623.65,7.17250],[1623.9,7.17285],[1622.95,7.17170],[1623.1,7.17195],
  [1623.75,7.17530],[1623.85,7.17555],[1624.0,7.17505],[1624.1,7.17600],[1624.25,7.17520],[1624.4,7.17540],[1624.55,7.17615],[1624.7,7.17525],[1624.85,7.17610],[1625.0,7.17605],
  [1625.15,7.17595],[1625.3,7.17600],[1625.45,7.17525],[1625.6,7.17610],[1625.75,7.17520],[1625.85,7.17595],[1624.3,7.17610],[1625.05,7.17515],
  [1625.85,7.17420],[1626.0,7.17440],[1626.1,7.17355],[1626.2,7.17450],[1626.3,7.17370],[1626.4,7.17465],[1626.5,7.17395],[1626.6,7.17410],[1626.7,7.17430],[1626.75,7.17450],
  [1626.9,7.17330],[1627.0,7.17290],[1627.1,7.17295],[1627.2,7.17315],[1627.3,7.17360],[1627.4,7.17295],[1627.5,7.17365],[1627.65,7.17355],[1627.75,7.17335],
  [1627.9,7.17565],[1628.0,7.17580],[1628.1,7.17505],[1628.2,7.17590],[1628.3,7.17510],[1628.4,7.17520],[1628.5,7.17585],[1628.6,7.17510],[1628.75,7.17575],[1628.85,7.17550],
  [1628.85,7.17215],[1628.95,7.17225],[1629.05,7.17165],[1629.15,7.17240],[1629.25,7.17180],[1629.35,7.17250],[1629.5,7.17195],[1629.6,7.17210],[1629.7,7.17200],[1629.8,7.17230],
  [1629.95,7.17120],[1630.05,7.17130],[1630.15,7.17065],[1630.25,7.17135],[1630.4,7.17120],[1630.5,7.17060],[1630.6,7.17110],[1630.65,7.17090],[1630.75,7.17085],
  [1630.85,7.17335],[1630.95,7.17355],[1631.05,7.17280],[1631.15,7.17300],[1631.25,7.17310],[1631.35,7.17320],[1631.5,7.17375],[1631.65,7.17375],[1631.75,7.17310],[1631.85,7.17345],
  [1631.9,7.17250],[1632.0,7.17255],[1632.1,7.17265],[1632.2,7.17325],[1632.3,7.17320],[1632.4,7.17250],[1632.55,7.17315],[1632.65,7.17300],[1632.75,7.17260],[1632.9,7.17295],
  [1633.0,7.17680],[1633.1,7.17615],[1633.2,7.17685],[1633.3,7.17690],[1633.4,7.17625],[1633.5,7.17625],[1633.6,7.17690],[1633.7,7.17675],[1633.8,7.17650],
  [1634.0,7.17430],[1634.1,7.17435],[1634.2,7.17375],[1634.3,7.17440],[1634.4,7.17370],[1634.5,7.17385],[1634.6,7.17435],[1634.7,7.17385],[1634.8,7.17400],
  [1634.9,7.17225],[1635.0,7.17235],[1635.1,7.17170],[1635.2,7.17245],[1635.3,7.17180],[1635.4,7.17190],[1635.5,7.17255],[1635.6,7.17200],[1635.75,7.17215],
  [1635.9,7.17680],[1636.0,7.17690],[1636.1,7.17700],[1636.2,7.17610],[1636.3,7.17715],[1636.4,7.17625],[1636.5,7.17640],[1636.6,7.17650],[1636.75,7.17670],[1636.8,7.17640],
  [1636.9,7.17955],[1637.0,7.17880],[1637.1,7.17890],[1637.2,7.17880],[1637.3,7.17950],[1637.4,7.17955],[1637.5,7.17870],[1637.6,7.17925],[1637.7,7.17880],
  [1638.0,7.17545],[1638.1,7.17555],[1638.2,7.17475],[1638.3,7.17480],[1638.4,7.17565],[1638.5,7.17485],[1638.6,7.17500],[1638.75,7.17520],[1638.8,7.17500],
  [1638.95,7.17200],[1639.05,7.17130],[1639.15,7.17150],[1639.25,7.17200],[1639.35,7.17140],[1639.45,7.17150],[1639.55,7.17200],[1639.65,7.17145],[1639.75,7.17170],
  [1639.75,7.17595],[1639.9,7.17610],[1640.05,7.17640],[1640.2,7.17665],[1640.35,7.17700],[1640.5,7.17715],[1640.65,7.17745],[1640.75,7.17765],
  [1641.0,7.17045],[1641.15,7.17070],[1641.3,7.17090],[1641.4,7.17150],[1641.25,7.17140]
];

// TIC 458491215 - residuals [time, mag]
const brRes = [
  [1612.95,7.17415],[1613.0,7.17440],[1613.05,7.17425],[1613.1,7.17455],[1613.15,7.17435],[1613.2,7.17410],[1613.25,7.17450],[1613.3,7.17430],[1613.4,7.17460],[1613.45,7.17420],
  [1613.5,7.17445],[1613.6,7.17470],[1613.65,7.17435],[1613.7,7.17455],[1613.8,7.17440],[1613.85,7.17465],[1613.9,7.17480],[1614.0,7.17450],[1614.05,7.17470],[1614.1,7.17440],
  [1614.2,7.17465],[1614.25,7.17485],[1614.3,7.17455],[1614.4,7.17475],[1614.45,7.17450],[1614.55,7.17490],[1614.6,7.17465],[1614.7,7.17480],[1614.75,7.17455],[1614.85,7.17495],
  [1614.9,7.17470],[1615.0,7.17485],[1615.05,7.17460],[1615.15,7.17495],[1615.2,7.17475],[1615.3,7.17455],[1615.35,7.17490],[1615.45,7.17470],[1615.5,7.17445],[1615.6,7.17480],
  [1615.65,7.17500],
  [1612.8,7.17322],[1613.05,7.17300],[1613.3,7.17290],[1613.5,7.17320],[1613.6,7.17345],[1613.75,7.17330],[1613.95,7.17355],[1614.1,7.17340],[1614.3,7.17360],[1614.5,7.17350],
  [1614.7,7.17375],[1614.9,7.17365],[1615.1,7.17380],[1615.3,7.17370],[1615.45,7.17390],[1615.5,7.17410],
  [1615.85,7.17180],[1615.95,7.17190],[1616.05,7.17185],[1616.15,7.17200],[1616.3,7.17195],[1616.45,7.17215],[1616.6,7.17225],[1615.9,7.17255],[1615.95,7.17275],[1616.0,7.17245],
  [1616.05,7.17290],[1616.1,7.17265],[1616.15,7.17300],[1616.2,7.17280],[1616.25,7.17255],[1616.3,7.17295],[1616.35,7.17270],[1616.4,7.17285],[1616.45,7.17260],[1616.55,7.17290],
  [1616.65,7.17275],[1616.75,7.17300],
  [1617.05,7.17315],[1617.2,7.17330],[1617.35,7.17345],[1617.5,7.17330],[1617.65,7.17355],[1616.85,7.17420],[1616.9,7.17440],[1616.95,7.17410],[1617.0,7.17455],[1617.05,7.17430],
  [1617.1,7.17465],[1617.15,7.17445],[1617.2,7.17420],[1617.25,7.17460],[1617.3,7.17440],[1617.35,7.17475],[1617.4,7.17450],[1617.45,7.17425],[1617.5,7.17465],[1617.55,7.17445],
  [1617.6,7.17410],[1617.7,7.17435],[1617.8,7.17400],[1617.9,7.17420],[1618.0,7.17390],[1618.1,7.17405],
  [1617.95,7.17490],[1618.0,7.17510],[1618.05,7.17530],[1618.1,7.17500],[1618.15,7.17540],[1618.2,7.17520],[1618.25,7.17545],[1618.3,7.17510],[1618.35,7.17535],[1618.4,7.17495],
  [1618.45,7.17525],[1618.5,7.17545],[1618.55,7.17505],[1618.6,7.17530],[1618.7,7.17515],[1618.8,7.17500],[1618.3,7.17475],
  [1618.85,7.17225],[1618.95,7.17215],[1619.05,7.17230],[1619.15,7.17225],[1619.25,7.17240],[1619.4,7.17250],[1618.9,7.17295],[1618.95,7.17315],[1619.0,7.17285],[1619.05,7.17330],
  [1619.1,7.17305],[1619.15,7.17340],[1619.2,7.17320],[1619.25,7.17295],[1619.3,7.17335],[1619.35,7.17310],[1619.4,7.17345],[1619.45,7.17325],[1619.5,7.17300],[1619.55,7.17340],
  [1619.6,7.17320],[1619.7,7.17350],[1619.8,7.17335],[1619.95,7.17355],[1620.1,7.17330],[1620.25,7.17345],[1620.4,7.17315],[1620.55,7.17335],[1619.6,7.17280],[1619.75,7.17295],
  [1619.9,7.17420],[1620.0,7.17440],[1620.1,7.17410],[1620.2,7.17450],[1620.3,7.17430],[1620.35,7.17460],[1620.4,7.17415],[1620.45,7.17445],[1620.5,7.17470],[1620.55,7.17425],
  [1620.6,7.17455],[1620.65,7.17435],[1620.7,7.17465],[1620.75,7.17410],[1620.8,7.17445],[1620.85,7.17425],[1620.9,7.17455],[1620.95,7.17400],[1621.0,7.17435],[1621.05,7.17415],
  [1621.1,7.17445],[1621.15,7.17390],[1621.2,7.17425],[1621.25,7.17405],[1621.3,7.17435],[1621.35,7.17385],[1621.4,7.17420],[1621.5,7.17400],[1621.6,7.17430],[1621.7,7.17395],
  [1621.8,7.17415],[1621.95,7.17380],[1622.1,7.17400],[1620.9,7.17300],[1621.05,7.17320],[1621.3,7.17335],[1621.5,7.17310],
  [1621.9,7.17490],[1621.95,7.17515],[1622.0,7.17535],[1622.05,7.17500],[1622.1,7.17545],[1622.15,7.17520],[1622.2,7.17550],[1622.25,7.17505],[1622.3,7.17535],[1622.35,7.17515],
  [1622.4,7.17545],[1622.45,7.17500],[1622.5,7.17530],[1622.6,7.17515],[1622.7,7.17495],[1622.8,7.17480],
  [1622.9,7.17275],[1622.95,7.17290],[1623.0,7.17310],[1623.05,7.17300],[1623.1,7.17330],[1623.0,7.17270],[1623.15,7.17345],[1623.2,7.17365],[1623.25,7.17350],[1623.3,7.17380],
  [1623.35,7.17360],[1623.4,7.17390],[1623.45,7.17370],[1623.5,7.17345],[1623.55,7.17385],[1623.6,7.17365],[1623.65,7.17395],[1623.7,7.17375],[1623.75,7.17355],[1623.8,7.17385],
  [1623.9,7.17370],[1624.0,7.17390],[1624.2,7.17385],[1624.5,7.17395],
  [1623.9,7.17470],[1624.0,7.17495],[1624.1,7.17455],[1624.15,7.17485],[1624.2,7.17505],[1624.25,7.17470],[1624.3,7.17495],[1624.35,7.17515],[1624.4,7.17480],[1624.45,7.17500],
  [1624.5,7.17465],[1624.55,7.17490],[1624.6,7.17510],[1624.65,7.17475],[1624.7,7.17495],[1624.75,7.17460],[1624.8,7.17485],[1624.85,7.17505],[1624.9,7.17470],[1624.95,7.17490],
  [1625.0,7.17455],[1625.05,7.17480],[1625.1,7.17500],[1625.15,7.17465],[1625.2,7.17485],[1625.25,7.17450],[1625.3,7.17475],[1625.35,7.17495],[1625.4,7.17460],[1625.5,7.17480],
  [1625.6,7.17450],[1625.7,7.17470],[1625.8,7.17440],[1625.9,7.17460],[1626.0,7.17445],[1624.4,7.17520],[1624.8,7.17525],
  [1625.8,7.17375],[1625.9,7.17395],[1626.0,7.17380],[1626.05,7.17410],[1626.1,7.17390],[1626.15,7.17425],[1626.2,7.17405],[1626.25,7.17440],[1626.3,7.17415],[1626.35,7.17450],
  [1626.4,7.17430],[1626.45,7.17460],[1626.5,7.17440],[1626.55,7.17470],[1626.6,7.17445],[1626.7,7.17460],[1626.8,7.17475],
  [1627.0,7.17360],[1627.1,7.17345],[1627.15,7.17375],[1627.2,7.17355],[1627.3,7.17385],[1627.35,7.17365],[1627.4,7.17395],[1627.45,7.17375],[1627.5,7.17350],[1627.55,7.17385],
  [1627.6,7.17360],[1627.7,7.17375],[1627.8,7.17390],[1627.45,7.17340],
  [1627.85,7.17430],[1627.9,7.17450],[1627.95,7.17470],[1628.0,7.17440],[1628.05,7.17480],[1628.1,7.17460],[1628.15,7.17490],[1628.2,7.17455],[1628.25,7.17475],[1628.3,7.17495],
  [1628.35,7.17465],[1628.4,7.17485],[1628.5,7.17470],[1628.6,7.17490],[1628.7,7.17460],[1628.55,7.17500],
  [1628.95,7.17320],[1629.0,7.17300],[1629.05,7.17335],[1629.1,7.17315],[1629.15,7.17345],[1629.2,7.17325],[1629.25,7.17305],[1629.3,7.17340],[1629.35,7.17320],[1629.4,7.17335],
  [1629.45,7.17310],[1629.5,7.17330],[1629.6,7.17315],[1629.7,7.17300],[1629.8,7.17285],[1629.85,7.17265],[1629.9,7.17290],[1629.95,7.17255],[1630.0,7.17280],[1630.05,7.17245],
  [1630.1,7.17270],[1630.15,7.17285],[1630.2,7.17255],[1630.25,7.17275],[1630.3,7.17240],[1630.35,7.17265],[1630.4,7.17280],[1630.45,7.17255],[1630.5,7.17270],[1630.6,7.17285],
  [1630.55,7.17195],[1630.7,7.17300],[1630.85,7.17310],
  [1630.9,7.17360],[1631.0,7.17380],[1631.05,7.17355],[1631.1,7.17390],[1631.15,7.17370],[1631.2,7.17400],[1631.25,7.17375],[1631.3,7.17395],[1631.35,7.17360],[1631.4,7.17385],
  [1631.45,7.17405],[1631.5,7.17370],[1631.55,7.17395],[1631.6,7.17375],[1631.65,7.17400],[1631.7,7.17365],[1631.75,7.17385],[1631.8,7.17360],[1631.85,7.17380],[1631.9,7.17350],
  [1632.0,7.17370],[1632.1,7.17345],[1632.2,7.17365],[1632.3,7.17340],[1632.45,7.17355],[1632.6,7.17335],[1631.6,7.17325],[1631.9,7.17310],[1632.3,7.17320],[1632.5,7.17300],
  [1632.8,7.17470],[1632.85,7.17490],[1632.9,7.17505],[1632.95,7.17480],[1633.0,7.17510],[1633.05,7.17495],[1633.1,7.17520],[1633.15,7.17485],[1633.2,7.17505],[1633.25,7.17490],
  [1633.3,7.17515],[1633.4,7.17500],[1633.5,7.17485],[1633.6,7.17500],[1633.7,7.17480],
  [1633.8,7.17375],[1633.9,7.17395],[1634.0,7.17380],[1634.05,7.17410],[1634.1,7.17390],[1634.15,7.17420],[1634.2,7.17400],[1634.25,7.17430],[1634.3,7.17405],[1634.35,7.17425],
  [1634.4,7.17395],[1634.45,7.17415],[1634.5,7.17435],[1634.55,7.17405],[1634.6,7.17420],[1634.7,7.17410],[1634.8,7.17430],[1634.0,7.17445],[1633.85,7.17345],[1634.2,7.17460],
  [1634.6,7.17340],[1634.75,7.17320],[1634.85,7.17335],[1634.95,7.17305],[1635.0,7.17325],[1635.05,7.17295],[1635.1,7.17315],[1635.15,7.17340],[1635.2,7.17300],[1635.25,7.17330],
  [1635.3,7.17290],[1635.35,7.17320],[1635.4,7.17340],[1635.45,7.17305],[1635.5,7.17325],[1635.55,7.17295],[1635.6,7.17315],[1635.7,7.17330],[1635.8,7.17310],[1635.9,7.17335],
  [1635.3,7.17280],
  [1635.7,7.17460],[1635.75,7.17480],[1635.8,7.17495],[1635.85,7.17470],[1635.9,7.17505],[1635.95,7.17485],[1636.0,7.17515],[1636.05,7.17490],[1636.1,7.17520],[1636.15,7.17500],
  [1636.2,7.17530],[1636.25,7.17505],[1636.3,7.17535],[1636.35,7.17515],[1636.4,7.17540],[1636.45,7.17520],[1636.5,7.17545],[1636.6,7.17530],[1636.7,7.17410],
  [1636.75,7.17545],[1636.8,7.17565],[1636.85,7.17540],[1636.9,7.17575],[1636.95,7.17550],[1637.0,7.17585],[1637.05,7.17560],[1637.1,7.17590],[1637.15,7.17570],[1637.2,7.17545],
  [1637.25,7.17580],[1637.3,7.17555],[1637.35,7.17585],[1637.4,7.17560],[1637.5,7.17570],[1637.6,7.17550],[1637.7,7.17560],[1637.1,7.17520],[1637.3,7.17525],
  [1637.9,7.17420],[1637.95,7.17440],[1638.0,7.17455],[1638.05,7.17430],[1638.1,7.17460],[1638.15,7.17440],[1638.2,7.17470],[1638.25,7.17445],[1638.3,7.17475],[1638.35,7.17450],
  [1638.4,7.17465],[1638.5,7.17445],[1638.6,7.17470],[1638.7,7.17455],[1638.85,7.17465],[1638.0,7.17415],
  [1638.95,7.17280],[1639.0,7.17300],[1639.05,7.17275],[1639.1,7.17310],[1639.15,7.17290],[1639.2,7.17320],[1639.25,7.17295],[1639.3,7.17315],[1639.35,7.17285],[1639.4,7.17305],
  [1639.5,7.17320],[1639.6,7.17300],[1639.7,7.17315],[1638.95,7.17265],
  [1639.7,7.17440],[1639.75,7.17455],[1639.8,7.17450],[1639.85,7.17470],[1639.9,7.17465],[1639.95,7.17485],[1640.0,7.17480],[1640.05,7.17500],[1640.1,7.17495],[1640.15,7.17515],
  [1640.2,7.17510],[1640.25,7.17530],[1640.3,7.17525],[1640.35,7.17545],[1640.4,7.17540],[1640.45,7.17560],[1640.5,7.17555],[1640.55,7.17570],
  [1640.95,7.17215],[1641.0,7.17225],[1641.05,7.17240],[1641.1,7.17235],[1641.15,7.17255],[1641.2,7.17250],[1641.25,7.17270],[1641.3,7.17265],[1641.35,7.17285],[1641.4,7.17280],
  [1641.45,7.17295],[1641.0,7.17205]
];
const brResExtra = [
  [1613.0,7.17395],[1613.2,7.17470],[1613.35,7.17400],[1613.55,7.17480],[1613.75,7.17410],[1613.95,7.17420],[1614.15,7.17495],[1614.35,7.17425],[1614.5,7.17505],[1614.65,7.17430],
  [1614.8,7.17440],[1614.95,7.17500],[1615.1,7.17440],[1615.25,7.17505],[1615.4,7.17430],[1615.55,7.17495],[1615.7,7.17460],
  [1615.95,7.17300],[1616.1,7.17240],[1616.2,7.17305],[1616.3,7.17250],[1616.4,7.17305],[1616.5,7.17245],[1616.6,7.17260],[1616.7,7.17285],
  [1616.9,7.17470],[1617.0,7.17400],[1617.15,7.17480],[1617.3,7.17405],[1617.45,7.17485],[1617.6,7.17470],[1617.75,7.17460],[1617.85,7.17450],
  [1618.0,7.17550],[1618.1,7.17480],[1618.2,7.17485],[1618.35,7.17555],[1618.5,7.17490],[1618.65,7.17550],[1618.75,7.17540],
  [1618.95,7.17355],[1619.1,7.17280],[1619.2,7.17355],[1619.35,7.17285],[1619.5,7.17355],[1619.65,7.17305],[1619.85,7.17310],[1620.0,7.17345],[1620.2,7.17320],[1620.45,7.17345],
  [1620.05,7.17465],[1620.25,7.17405],[1620.45,7.17475],[1620.6,7.17405],[1620.75,7.17470],[1620.95,7.17460],[1621.1,7.17395],[1621.25,7.17455],[1621.45,7.17445],[1621.6,7.17385],
  [1621.75,7.17440],[1621.9,7.17420],[1622.05,7.17385],
  [1621.95,7.17550],[1622.05,7.17555],[1622.15,7.17490],[1622.3,7.17495],[1622.4,7.17505],[1622.55,7.17550],[1622.65,7.17540],[1622.75,7.17520],
  [1623.2,7.17340],[1623.3,7.17345],[1623.45,7.17400],[1623.6,7.17400],[1623.7,7.17345],[1623.85,7.17395],[1623.95,7.17355],
  [1624.05,7.17440],[1624.2,7.17445],[1624.35,7.17460],[1624.5,7.17520],[1624.65,7.17515],[1624.8,7.17450],[1624.95,7.17520],[1625.1,7.17445],[1625.25,7.17505],[1625.4,7.17510],
  [1625.55,7.17500],[1625.7,7.17440],[1625.85,7.17485],[1625.95,7.17475],
  [1625.85,7.17440],[1626.0,7.17455],[1626.15,7.17375],[1626.3,7.17470],[1626.45,7.17395],[1626.55,7.17410],[1626.7,7.17420],[1626.8,7.17440],
  [1627.05,7.17395],[1627.2,7.17395],[1627.35,7.17340],[1627.5,7.17400],[1627.65,7.17345],[1627.75,7.17355],
  [1627.9,7.17495],[1628.0,7.17500],[1628.1,7.17430],[1628.25,7.17500],[1628.4,7.17440],[1628.55,7.17445],[1628.65,7.17480],[1628.75,7.17475],
  [1629.0,7.17345],[1629.15,7.17300],[1629.3,7.17310],[1629.45,7.17345],[1629.6,7.17340],[1629.75,7.17320],[1629.9,7.17250],[1630.05,7.17290],[1630.2,7.17240],[1630.35,7.17290],
  [1630.5,7.17240],[1630.65,7.17260],
  [1631.0,7.17345],[1631.15,7.17405],[1631.3,7.17350],[1631.45,7.17350],[1631.6,7.17410],[1631.75,7.17405],[1631.85,7.17340],[1632.0,7.17395],[1632.15,7.17375],[1632.3,7.17380],
  [1632.45,7.17335],[1632.55,7.17360],
  [1632.85,7.17520],[1632.95,7.17525],[1633.1,7.17470],[1633.25,7.17525],[1633.35,7.17475],[1633.5,7.17515],[1633.65,7.17510],
  [1633.85,7.17420],[1634.0,7.17365],[1634.1,7.17440],[1634.25,7.17380],[1634.35,7.17450],[1634.5,7.17385],[1634.65,7.17440],[1634.75,7.17390],
  [1634.7,7.17300],[1634.9,7.17350],[1635.05,7.17345],[1635.2,7.17345],[1635.35,7.17300],[1635.5,7.17290],[1635.65,7.17350],[1635.85,7.17300],
  [1635.75,7.17520],[1635.9,7.17460],[1636.0,7.17475],[1636.1,7.17485],[1636.25,7.17550],[1636.4,7.17495],[1636.55,7.17500],[1636.65,7.17545],
  [1636.8,7.17520],[1636.95,7.17595],[1637.05,7.17530],[1637.2,7.17595],[1637.35,7.17540],[1637.5,7.17595],[1637.6,7.17580],[1637.75,7.17535],
  [1637.95,7.17470],[1638.1,7.17420],[1638.25,7.17480],[1638.4,7.17425],[1638.55,7.17470],[1638.65,7.17435],[1638.8,7.17450],
  [1639.0,7.17330],[1639.15,7.17325],[1639.3,7.17270],[1639.45,7.17280],[1639.6,7.17330],[1639.75,7.17295],
  [1639.75,7.17435],[1639.9,7.17450],[1640.05,7.17480],[1640.2,7.17495],[1640.35,7.17525],[1640.5,7.17540],[1640.6,7.17565],
  [1641.05,7.17210],[1641.2,7.17230],[1641.35,7.17265],[1641.5,7.17290]
];
const brRefPoint = [[1643, 7.17900]];

const FONT = "'Liberation Serif', 'Times New Roman', serif";
const INK = '#111';

function pts(arr) { return arr.map(p => ({ x: p[0], y: p[1] })); }
function zipPts(xs, ys) { return xs.map((x, i) => ({ x: x, y: ys[i] })); }

// frame, inward ticks on all four sides, and free text
const frameTicks = {
  id: 'frameTicks',
  afterDraw(chart, args, o) {
    const { ctx, chartArea: a } = chart;
    const x = chart.scales.x, y = chart.scales.y;
    ctx.save();
    ctx.strokeStyle = '#000';
    ctx.lineWidth = 1;
    ctx.beginPath();
    const n0 = Math.ceil(x.min / o.xMinor - 1e-6), n1 = Math.floor(x.max / o.xMinor + 1e-6);
    for (let n = n0; n <= n1; n++) {
      const len = n % o.xRatio === 0 ? 6 : 3;
      const px = Math.round(x.getPixelForValue(n * o.xMinor)) + 0.5;
      ctx.moveTo(px, a.bottom); ctx.lineTo(px, a.bottom - len);
      ctx.moveTo(px, a.top); ctx.lineTo(px, a.top + len);
    }
    const m0 = Math.ceil(y.min / o.yMinor - 1e-6), m1 = Math.floor(y.max / o.yMinor + 1e-6);
    for (let n = m0; n <= m1; n++) {
      const len = n % o.yRatio === 0 ? 6 : 3;
      const py = Math.round(y.getPixelForValue(n * o.yMinor)) + 0.5;
      ctx.moveTo(a.left, py); ctx.lineTo(a.left + len, py);
      ctx.moveTo(a.right, py); ctx.lineTo(a.right - len, py);
    }
    ctx.stroke();
    ctx.strokeRect(Math.round(a.left) + 0.5, Math.round(a.top) + 0.5,
                   Math.round(a.right - a.left) - 1, Math.round(a.bottom - a.top) - 1);
    ctx.fillStyle = INK;
    ctx.font = '15px ' + FONT;
    if (o.note) {
      ctx.textAlign = 'center';
      ctx.textBaseline = 'middle';
      ctx.fillText(o.note.text, x.getPixelForValue(o.note.x), y.getPixelForValue(o.note.y));
    }
    if (o.yTitle) {
      ctx.translate(o.yTitle.px, o.yTitle.py);
      ctx.rotate(-Math.PI / 2);
      ctx.textAlign = 'center';
      ctx.textBaseline = 'middle';
      ctx.fillText(o.yTitle.text, 0, 0);
    }
    ctx.restore();
  }
};

function xScale(bottom) {
  return {
    type: 'linear', min: 1610, max: 1645,
    afterBuildTicks: s => { s.ticks = xTickValues.map(v => ({ value: v })); },
    afterFit: s => { s.height = bottom ? 55 : 6; },
    grid: { display: false, drawTicks: false },
    border: { display: false },
    ticks: { display: bottom, padding: 2, maxRotation: 0, autoSkip: false, color: INK,
             font: { family: FONT, size: 14 }, callback: v => String(v) },
    title: { display: bottom, text: 'Time[days]', color: INK,
             font: { family: FONT, size: 15 }, padding: { top: 0, bottom: 16 } }
  };
}

function yScale(min, max, ticks, digits, width, pad) {
  return {
    type: 'linear', reverse: true, min: min, max: max,
    afterBuildTicks: s => { s.ticks = ticks.map(v => ({ value: v })); },
    afterFit: s => { s.width = width; },
    grid: { display: false, drawTicks: false },
    border: { display: false },
    ticks: { padding: pad, color: INK, font: { family: FONT, size: 14 },
             callback: v => Number(v).toFixed(digits) }
  };
}

function dots(data) {
  return { data: data, showLine: false, pointRadius: 2.5, pointBorderWidth: 0,
           backgroundColor: '#000', pointBackgroundColor: '#000', borderColor: '#000' };
}
function redLine(data, w) {
  return { data: data, showLine: true, pointRadius: 0, borderColor: '#ff0000',
           borderWidth: w || 1, fill: false, tension: 0 };
}

function panel(id, datasets, opts) {
  return new Chart(document.getElementById(id), {
    type: 'scatter',
    data: { datasets: datasets },
    options: {
      responsive: false, animation: false, devicePixelRatio: 1, events: [],
      layout: { padding: opts.padding, autoPadding: false },
      plugins: { legend: { display: false }, tooltip: { enabled: false }, frameTicks: opts.frame },
      scales: { x: opts.x, y: opts.y }
    },
    plugins: [frameTicks]
  });
}

const leftMin = 7.02850, leftMax = 7.03049;
const rightMin = 7.16922, rightMax = 7.17960;
const leftFrame = { xMinor: 1, xRatio: 5, yMinor: 0.0001, yRatio: 5 };
const rightFrame = { xMinor: 1, xRatio: 5, yMinor: 0.0005, yRatio: 4 };

panel('tl', [redLine(pts(tlModel), 1.2), dots(pts(tlObs)), dots(pts(tlObsExtra))], {
  padding: { left: 0, top: 10, right: 18, bottom: 0 },
  frame: leftFrame,
  x: xScale(false),
  y: yScale(leftMin, leftMax, yTicksLeft, 4, 83, 5)
});

panel('bl', [
  Object.assign(redLine(pts(blRefError)), { borderColor: '#000' }),
  dots(pts(blRefPoint)),
  dots(zipPts(blTime, blResA)),
  dots(zipPts(blTime, blResB)),
  dots(zipPts(blTime, blResC))
], {
  padding: { left: 0, top: 0, right: 18, bottom: 0 },
  frame: Object.assign({}, leftFrame, {
    note: { text: 'TIC-ID: 311297756', x: 1627.5, y: 7.030255 },
    yTitle: { text: 'T [mag]', px: 25, py: 67 }
  }),
  x: xScale(true),
  y: yScale(leftMin, leftMax, yTicksLeft, 4, 83, 5)
});

panel('tr', [redLine(pts(trModel)), dots(pts(trObs)), dots(pts(trObsExtra))], {
  padding: { left: 0, top: 10, right: 17, bottom: 0 },
  frame: rightFrame,
  x: xScale(false),
  y: yScale(rightMin, rightMax, yTicksRight, 3, 79, 3)
});

panel('br', [dots(pts(brRefPoint)), dots(pts(brRes)), dots(pts(brResExtra))], {
  padding: { left: 0, top: 0, right: 17, bottom: 0 },
  frame: Object.assign({}, rightFrame, {
    note: { text: 'TIC-ID: 458491215', x: 1627.0, y: 7.17830 },
    yTitle: { text: 'T [mag]', px: 27, py: 67 }
  }),
  x: xScale(true),
  y: yScale(rightMin, rightMax, yTicksRight, 3, 79, 3)
});
</script>
</body>
</html>
